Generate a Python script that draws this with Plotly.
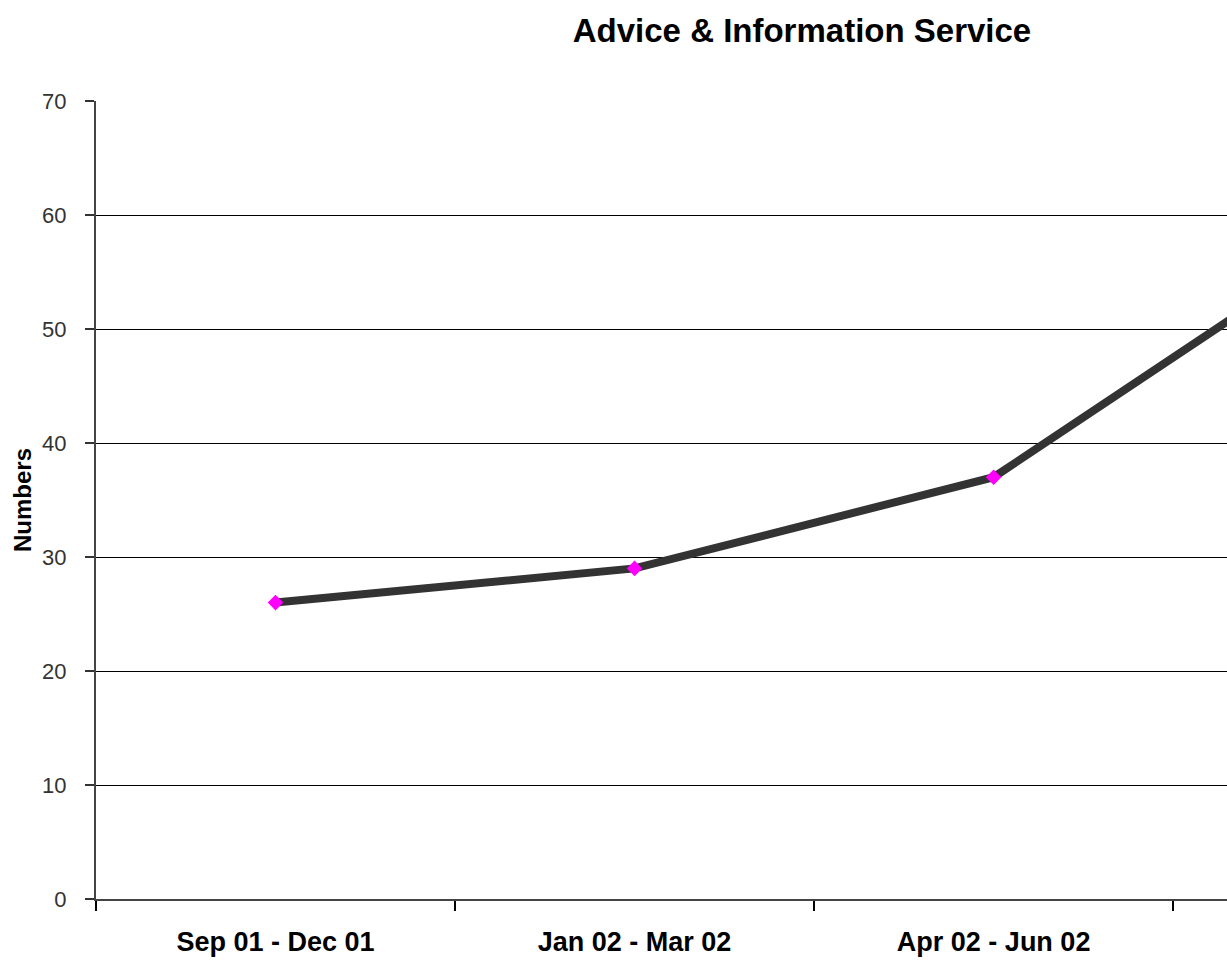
import plotly.graph_objects as go

categories = ["Sep 01 - Dec 01", "Jan 02 - Mar 02", "Apr 02 - Jun 02", "Jul 02 - Sep 02"]
values = [26, 29, 37, 58]
y_ticks = [0, 10, 20, 30, 40, 50, 60, 70]

W, H = 1227, 961
L, T = 96, 101
B = H - 899
PW = W - L

fig = go.Figure()
fig.add_trace(go.Scatter(
    x=categories, y=values, mode="lines+markers",
    line=dict(color="#333333", width=8),
    marker=dict(symbol="diamond", color="#ff00ff", size=12, line=dict(width=0)),
    showlegend=False, cliponaxis=True,
))

fig.update_layout(
    width=W, height=H,
    margin=dict(l=L, r=0, t=T, b=B, pad=0),
    paper_bgcolor="white", plot_bgcolor="white",
    title=dict(text="<b>Advice & Information Service</b>", x=802 / W, xref="container", xanchor="center",
               y=1 - 30 / H, yref="container", yanchor="middle",
               font=dict(family="Liberation Sans, Arial", size=33, color="black")),
    font=dict(family="Liberation Sans, Arial", color="black"),
)

fig.update_xaxes(
    type="category", range=[-0.5, 2.65],
    tickvals=categories, ticktext=["<b>%s</b>" % c for c in categories],
    tickson="boundaries", ticks="outside", ticklen=10, tickwidth=2, tickcolor="black",
    showline=True, linecolor="#444444", linewidth=2, showgrid=False,
    tickfont=dict(family="Liberation Sans, Arial", size=27, color="black"),
    ticklabelstandoff=18,
    zeroline=False,
)
fig.update_yaxes(
    range=[0, 70], tickvals=y_ticks,
    ticks="outside", ticklen=9, tickwidth=2, tickcolor="#333333",
    showline=True, linecolor="#444444", linewidth=2,
    showgrid=True, gridcolor="black", gridwidth=1,
    tickfont=dict(family="Liberation Sans, Arial", size=22, color="#333333"),
    ticklabelstandoff=14,
    zeroline=False,
)

fig.add_annotation(
    text="<b>Numbers</b>", textangle=-90, xref="paper", yref="paper",
    x=(22 - 96) / PW, y=0.5, xanchor="center", yanchor="middle", showarrow=False,
    font=dict(family="Liberation Sans, Arial", size=24, color="black"),
)

fig.write_html("out.html", config={"displayModeBar": False},
               post_script="document.body.style.margin='0';document.body.style.overflow='hidden';")
